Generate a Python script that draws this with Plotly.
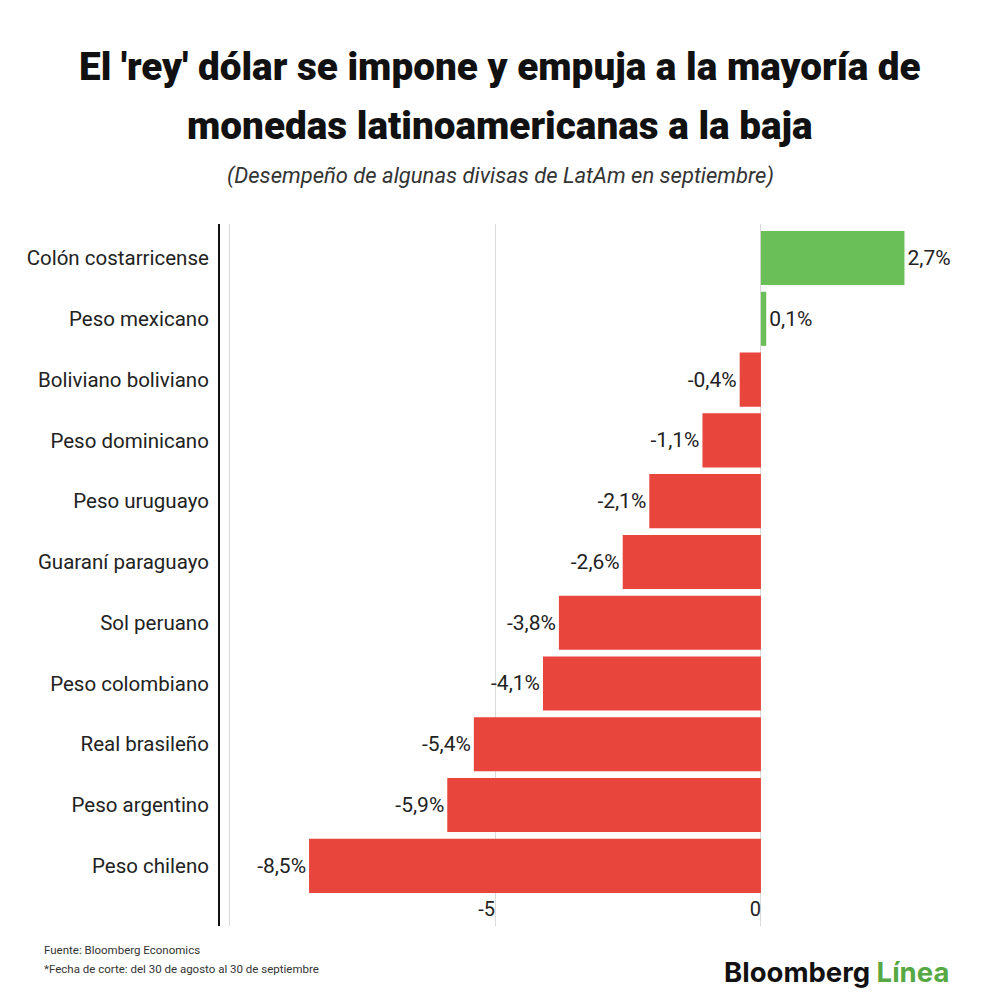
import plotly.graph_objects as go

# currency performance in September (% change vs USD)
monedas = ['Colón costarricense', 'Peso mexicano', 'Boliviano boliviano', 'Peso dominicano',
           'Peso uruguayo', 'Guaraní paraguayo', 'Sol peruano', 'Peso colombiano',
           'Real brasileño', 'Peso argentino', 'Peso chileno']
cambio = [2.7, 0.1, -0.4, -1.1, -2.1, -2.6, -3.8, -4.1, -5.4, -5.9, -8.5]
etiquetas = ['2,7%', '0,1%', '-0,4%', '-1,1%', '-2,1%', '-2,6%', '-3,8%', '-4,1%',
             '-5,4%', '-5,9%', '-8,5%']
tick_vals = [-10, -5, 0]
tick_text = ['', '-5', '0']

verde = '#6abf59'
rojo = '#e8453c'
colores = [verde if v > 0 else rojo for v in cambio]

fig = go.Figure(go.Bar(
    x=cambio, y=monedas, orientation='h',
    marker=dict(color=colores, line=dict(width=0)),
    width=0.89,
    text=etiquetas, textposition='outside', cliponaxis=False,
    textfont=dict(family='Roboto', size=21, color='#222'),
))

# page body has an 8px margin; plot area spans roughly y=224..926 px on the page
def py(ypx):
    return (926 - ypx) / 702

def px(xpx):
    return (xpx - 220) / 727

fig.update_layout(
    width=992, height=998,
    margin=dict(l=212, r=53, t=216, b=80),
    paper_bgcolor='white', plot_bgcolor='white',
    showlegend=False,
    font=dict(family='Roboto', color='#222'),
    xaxis=dict(
        range=[-10.175, 3.5],
        tickmode='array', tickvals=tick_vals, ticktext=tick_text,
        ticklabelposition='inside left',
        tickfont=dict(size=20, color='#222'),
        showgrid=True, gridcolor='#d9d9d9', gridwidth=1,
        zeroline=False, showline=False, ticks='',
    ),
    yaxis=dict(
        autorange=False, range=[10.99, -0.56],
        showline=True, linecolor='#111', linewidth=2,
        showgrid=False, ticks='', ticklabelstandoff=5,
        tickfont=dict(size=20.5, color='#222'),
    ),
)

annots = [
    dict(text="El 'rey' dólar se impone y empuja a la mayoría de", y=py(66), size=38.7, color='#111', weight=900),
    dict(text='monedas latinoamericanas a la baja', y=py(125), size=38.7, color='#111', weight=900),
    dict(text='<i>(Desempeño de algunas divisas de LatAm en septiembre)</i>', y=py(176), size=22, color='#333', weight=400),
]
for a in annots:
    fig.add_annotation(text=a['text'], xref='paper', yref='paper', x=px(500),
                       y=a['y'], xanchor='center', yanchor='middle', showarrow=False,
                       font=dict(family='Roboto', size=a['size'], color=a['color'], weight=a['weight']))

fig.add_annotation(text='Fuente: Bloomberg Economics', xref='paper', yref='paper',
                   x=px(42), y=py(950), xanchor='left', yanchor='middle',
                   showarrow=False, font=dict(family='Roboto', size=11.5, color='#333'))
fig.add_annotation(text='*Fecha de corte: del 30 de agosto al 30 de septiembre', xref='paper', yref='paper',
                   x=px(42), y=py(969), xanchor='left', yanchor='middle',
                   showarrow=False, font=dict(family='Roboto', size=11.5, color='#333'))
fig.add_annotation(text="<b>Bloomberg <span style='color:#56a843'>Línea</span></b>",
                   xref='paper', yref='paper', x=px(951), y=py(972),
                   xanchor='right', yanchor='middle', showarrow=False,
                   font=dict(family='Inter', size=27.5, color='#111'))

fig.write_html('out.html')
